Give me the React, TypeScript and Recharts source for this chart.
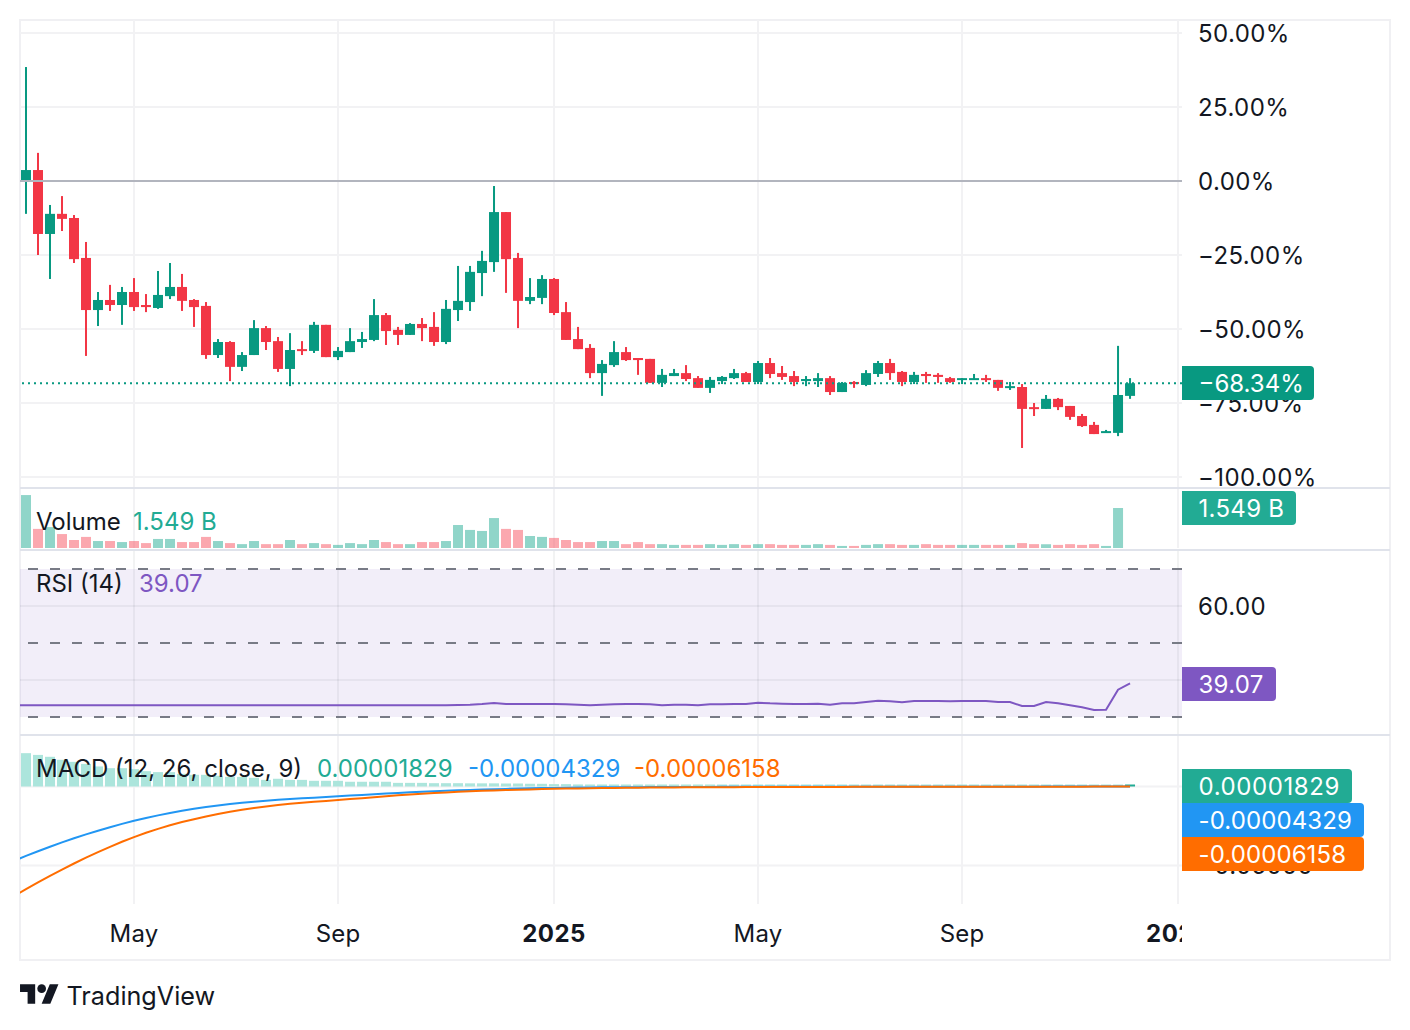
import React from "react";
import { ComposedChart, Bar, Line, XAxis, YAxis, CartesianGrid, ReferenceLine, ReferenceArea, Cell } from "recharts";

const FONT = "Inter, 'Noto Sans', sans-serif";
const UP = "#089981";
const DOWN = "#F23645";
const INK = "#131722";
const GRID = "#F2F2F4";
const SEP = "#E0E3EB";

const highs = [38.5,9.5,-8.1,-5.1,-11.5,-20.6,-37.5,-35.1,-35.8,-32.8,-38.2,-30.4,-27.7,-31.4,-39.9,-40.9,-53.4,-54.1,-57.8,-47,-49,-52.7,-51.4,-54.1,-47.6,-48.6,-56.1,-49.7,-51,-39.9,-44.6,-49.3,-48,-46.3,-44.3,-40.2,-28.7,-28.7,-23.6,-1.7,-10.5,-24.3,-32.8,-31.8,-32.8,-40.9,-49.3,-55.1,-60.5,-54.1,-56.1,-59.8,-60.1,-63.5,-63.5,-62.2,-65.9,-66.2,-65.9,-63.5,-64.5,-60.8,-59.8,-62.5,-64.2,-65.9,-64.9,-65.9,-67.9,-67.6,-63.9,-60.8,-60.1,-64.2,-64.5,-64.5,-64.9,-66.2,-66.6,-65.2,-65.5,-67.2,-67.9,-68.6,-75,-72.3,-73.3,-76,-78.7,-81.4,-84.1,-55.7,-66.6];
const lows = [-11.1,-25,-33.1,-16.9,-27.7,-59.1,-49,-43.9,-48.6,-43.9,-44.3,-43.2,-39.9,-43.9,-49.3,-60.1,-59.8,-67.6,-64.2,-58.8,-57.1,-64.5,-69.3,-58.8,-58.1,-59.5,-60.5,-57.8,-56.4,-54.1,-55.4,-55.4,-52,-54.1,-55.7,-55.1,-47.3,-43.9,-38.9,-30.7,-37.8,-49.7,-41.6,-41.6,-45.3,-53.7,-56.8,-66.6,-72.6,-62.8,-60.8,-65.5,-68.2,-69.6,-65.9,-67.6,-69.9,-71.6,-68.6,-66.9,-67.9,-68.6,-66.6,-67.2,-69.3,-69.3,-69.6,-72.3,-71.3,-69.9,-69.3,-66.2,-67.2,-69.3,-68.6,-68.2,-68.2,-68.2,-68.6,-67.2,-67.9,-70.9,-70.6,-90.2,-79.4,-77,-77.4,-80.7,-83.1,-85.5,-85.1,-86.2,-73.6];
const opens = [-0.3,3.7,-17.9,-11.1,-12.5,-26,-43.6,-40.2,-41.9,-37.5,-41.9,-42.9,-38.9,-35.8,-40.2,-42.2,-58.8,-54.4,-62.8,-58.8,-49.7,-54.1,-63.5,-56.8,-57.4,-48.6,-59.5,-57.8,-54.4,-53.7,-45.3,-50.3,-52,-48.3,-49.3,-54.4,-43.6,-40.9,-31.1,-27.4,-10.5,-26,-40.5,-39.5,-33.1,-44.3,-53.4,-56.4,-64.9,-62.2,-57.8,-59.8,-60.1,-68.2,-65.9,-64.9,-66.6,-69.9,-67.6,-66.6,-64.9,-67.9,-61.5,-64.9,-65.9,-67.6,-67.6,-66.6,-71.3,-67.9,-68.9,-65.2,-61.5,-64.5,-67.9,-65.2,-65.5,-66.6,-67.2,-67.2,-66.6,-67.2,-69.9,-69.6,-76.4,-77,-73.6,-76,-79.4,-82.4,-85.1,-85.1,-72.6];
const closes = [3.7,-17.9,-11.1,-12.8,-26.4,-43.6,-40.2,-41.9,-37.5,-42.6,-42.6,-38.5,-35.8,-40.5,-42.6,-58.8,-54.4,-62.8,-58.8,-49.7,-54.4,-63.5,-57.1,-57.4,-48.6,-59.5,-57.4,-54.1,-53.4,-45.3,-50.7,-52,-48.3,-49.7,-54.4,-43.2,-40.5,-30.7,-27,-10.5,-26.4,-40.5,-39.2,-33.1,-44.6,-53.7,-56.8,-64.9,-61.8,-57.8,-60.5,-60.5,-68.2,-65.5,-64.9,-66.9,-69.9,-67.2,-66.2,-64.9,-67.9,-61.5,-65.2,-66.2,-67.9,-66.9,-66.6,-71.3,-68.2,-68.6,-64.9,-61.5,-64.9,-67.9,-65.5,-65.9,-66.2,-67.9,-66.6,-66.6,-67.2,-69.9,-69.3,-77,-77,-73.6,-76.4,-79.7,-82.8,-85.5,-84.5,-72.3,-68.34];

const volumes = [2.05,0.74,0.81,0.54,0.31,0.43,0.27,0.27,0.23,0.27,0.19,0.35,0.35,0.23,0.23,0.43,0.27,0.19,0.15,0.27,0.15,0.15,0.31,0.15,0.19,0.15,0.12,0.19,0.15,0.31,0.23,0.15,0.15,0.23,0.23,0.27,0.89,0.70,0.66,1.16,0.74,0.70,0.46,0.43,0.39,0.31,0.23,0.23,0.27,0.27,0.15,0.23,0.15,0.15,0.12,0.12,0.12,0.15,0.12,0.15,0.12,0.15,0.15,0.12,0.12,0.12,0.15,0.12,0.08,0.08,0.12,0.15,0.15,0.12,0.12,0.15,0.12,0.12,0.12,0.12,0.12,0.12,0.12,0.19,0.15,0.15,0.12,0.15,0.12,0.15,0.08,1.549,null];

const rsiStart = 33.15;
const rsi = [33.15,33.15,33.15,33.15,33.15,33.15,33.15,33.15,33.15,33.15,33.15,33.15,33.15,33.15,33.15,33.15,33.15,33.15,33.15,33.15,33.15,33.15,33.2,33.2,33.15,33.15,33.15,33.15,33.15,33.15,33.15,33.15,33.15,33.15,33.15,33.2,33.25,33.33,33.51,33.78,33.55,33.51,33.51,33.51,33.51,33.42,33.33,33.15,33.3,33.42,33.51,33.51,33.45,33.15,33.33,33.33,33.15,33.42,33.42,33.51,33.51,33.87,33.69,33.6,33.51,33.51,33.6,33.33,33.69,33.69,34.05,34.41,34.23,33.96,34.32,34.32,34.32,34.23,34.32,34.32,34.32,34.05,34.05,32.97,32.97,34.05,33.69,33.15,32.61,31.89,31.98,37.39,39.07];

const macdStart = -0.04703;
const macd = [-0.04393,-0.04096,-0.03811,-0.03538,-0.03279,-0.03032,-0.02798,-0.02576,-0.02367,-0.02171,-0.01994,-0.01829,-0.01677,-0.01538,-0.01412,-0.01298,-0.01196,-0.01108,-0.01032,-0.00962,-0.00899,-0.00842,-0.00791,-0.00747,-0.00709,-0.00665,-0.0062,-0.00576,-0.00532,-0.00487,-0.00443,-0.00405,-0.00367,-0.00329,-0.00298,-0.00266,-0.00241,-0.00215,-0.0019,-0.00171,-0.00152,-0.00133,-0.00114,-0.00101,-0.00089,-0.00076,-0.00068,-0.00061,-0.00055,-0.0005,-0.00045,-0.00041,-0.00037,-0.00034,-0.00031,-0.00028,-0.00026,-0.00024,-0.00022,-0.0002,-0.0002,-0.00019,-0.00019,-0.00018,-0.00018,-0.00015,-0.00015,-0.00015,-0.00015,-0.00015,-0.00015,-0.00012,-0.00012,-0.00012,-0.00012,-0.00012,-0.0001,-0.0001,-0.0001,-0.0001,-0.0001,-0.0001,-0.0001,-0.00009,-0.00009,-0.00008,-0.00008,-0.00007,-0.00007,-0.00006,-0.00006,-0.00005,-0.00004329];
const signalStart = -0.06944;
const signal = [-0.06495,-0.06071,-0.05659,-0.0526,-0.04874,-0.04507,-0.04152,-0.03817,-0.035,-0.03203,-0.02931,-0.02684,-0.02456,-0.02253,-0.0207,-0.01899,-0.01741,-0.01601,-0.01475,-0.01361,-0.0126,-0.01171,-0.01095,-0.01032,-0.00968,-0.00912,-0.00855,-0.00798,-0.00741,-0.00684,-0.00614,-0.00557,-0.005,-0.00456,-0.00411,-0.00373,-0.00335,-0.00304,-0.00272,-0.00247,-0.00222,-0.00203,-0.00184,-0.00165,-0.00146,-0.00133,-0.00122,-0.00112,-0.00102,-0.00092,-0.00084,-0.00077,-0.0007,-0.00064,-0.00059,-0.00054,-0.0005,-0.00047,-0.00044,-0.00041,-0.00038,-0.00035,-0.00033,-0.00031,-0.0003,-0.00028,-0.00026,-0.00025,-0.00024,-0.00022,-0.00021,-0.0002,-0.00019,-0.00018,-0.00017,-0.00016,-0.00016,-0.00015,-0.00015,-0.00014,-0.00014,-0.00013,-0.00013,-0.00012,-0.00012,-0.00011,-0.0001,-0.0001,-0.00009,-0.00008,-0.00008,-0.00007,-0.00006158];
const histogram = [0.0211,0.02,0.0188,0.0169,0.0156,0.0143,0.0127,0.0116,0.0116,0.011,0.0097,0.0091,0.0091,0.008,0.0074,0.0074,0.0068,0.0061,0.0061,0.0055,0.0042,0.0049,0.0042,0.0042,0.0036,0.0036,0.0036,0.003,0.003,0.003,0.003,0.0023,0.0023,0.0023,0.0021,0.0021,0.0021,0.002,0.002,0.002,0.0019,0.0019,0.0017,0.0017,0.0015,0.0015,0.0013,0.0012,0.0011,0.001,0.0009,0.0009,0.0008,0.0008,0.0007,0.0007,0.0006,0.0006,0.0006,0.0005,0.0005,0.0004,0.0004,0.0004,0.0003,0.0003,0.0003,0.0003,0.0002,0.0002,0.0002,0.0002,0.0002,0.0002,0.0001,0.0001,0.0001,0.0001,0.0001,0.0001,0.0001,0.0001,0.0001,0.00008,0.00008,0.00006,0.00006,0.00005,0.00005,0.00004,0.00004,0.00003,0.00001829];

const priceTicks = [50, 25, 0, -25, -50, -75, -100];
const priceGrid = [50, 25, -25, -50, -75, -100];
const timeTicks = [9, 26, 44, 61, 78, 96];
const timeLabels = ["May", "Sep", "2025", "May", "Sep", "2026"];
const rsiGrid = [60, 40];
const rsiTicks = [60];
const rsiBands = [70, 50, 30];
const macdTicks = [0, -0.05];
const macdGrid = [0, -0.05];

const rows = highs.map((h, i) => ({
  i,
  high: h,
  low: lows[i],
  open: opens[i],
  close: closes[i],
  volume: volumes[i],
  rsi: rsi[i],
  macd: macd[i],
  signal: signal[i],
  hist: histogram[i],
}));
const lead = { i: -1, rsi: rsiStart, macd: macdStart, signal: signalStart };
const lineRows = [lead, ...rows];

const X_DOMAIN: [number, number] = [-0.5, 96.33];
const FULL_W = 1370;
const PLOT_R = 208;

function Candle(props: any) {
  const { x, y, width, height, payload } = props;
  if (payload.high == null || !height) return null;
  const toY = (v: number) => y + ((payload.high - v) / (payload.high - payload.low)) * height;
  const up = payload.close >= payload.open;
  const color = up ? UP : DOWN;
  const top = toY(Math.max(payload.open, payload.close));
  const bottom = toY(Math.min(payload.open, payload.close));
  const cx = x + width / 2;
  return (
    <g>
      <rect x={cx - 1} y={y} width={2} height={height} fill={color} />
      <rect x={cx - 5} y={top} width={10} height={Math.max(bottom - top, 2)} fill={color} />
    </g>
  );
}

const tickStyle = { fontSize: 24, fill: INK, fontFamily: FONT, letterSpacing: 0.4 };

function pane(top: number, height: number, width: number, left = 20): React.CSSProperties {
  return { position: "absolute", left, top, width, height };
}

function TimeTick(props: any) {
  const { x, y, payload } = props;
  const k = timeTicks.indexOf(payload.value);
  const year = timeLabels[k].length === 4;
  return (
    <text x={x} y={y + 36} textAnchor="middle" fontFamily={FONT} fontSize={24} fontWeight={year ? 700 : 400} fill={INK} letterSpacing={year ? 0.5 : 0.2}>
      {timeLabels[k]}
    </text>
  );
}

function Tag({ top, right, bg, text, ls }: { top: number; right: number; bg: string; text: string; ls: number }) {
  return (
    <div
      style={{
        position: "absolute", left: 1182, top, width: right - 1182, height: 34, background: bg, color: "#fff",
        borderRadius: "0 4px 4px 0", font: `24px/35px ${FONT}`, paddingLeft: 16.5, boxSizing: "border-box",
        whiteSpace: "nowrap", letterSpacing: ls,
      }}
    >
      {text}
    </div>
  );
}

function Legend({ left, top, color, text }: { left: number; top: number; color: string; text: string }) {
  return (
    <div style={{ position: "absolute", left, top: top - 16, height: 34, color, font: `24px/34px ${FONT}`, whiteSpace: "pre" }}>
      {text}
    </div>
  );
}

function Sep({ top }: { top: number }) {
  return <div style={{ position: "absolute", left: 20, top, width: 1370, height: 2, background: SEP }} />;
}

export default function App() {
  return (
    <div style={{ position: "absolute", left: 0, top: 0, width: 1410, height: 1030, background: "#fff", overflow: "hidden" }}>
      <div style={{ position: "absolute", left: 19, top: 19, width: 1372, height: 942, border: "2px solid #F0F0F3", boxSizing: "border-box" }} />

      {/* Price pane */}
      <div style={pane(20, 490, FULL_W)}>
        <ComposedChart width={FULL_W} height={490} data={rows} margin={{ top: 0, right: 0, bottom: 22, left: 0 }}>
          <CartesianGrid stroke={GRID} strokeWidth={2} horizontalValues={priceGrid} verticalValues={timeTicks} />
          <XAxis dataKey="i" type="number" domain={X_DOMAIN} allowDataOverflow hide />
          <YAxis
            orientation="right" width={PLOT_R} domain={[-103.72, 54.39]} allowDataOverflow ticks={priceTicks} interval={0}
            axisLine={false} tickLine={false} tickSize={0} tickMargin={16} tick={tickStyle}
            tickFormatter={(v: number) => `${v < 0 ? "\u2212" : ""}${Math.abs(v).toFixed(2)}%`}
          />
          <ReferenceLine y={0} stroke="#B2B5BE" strokeWidth={2} />
          <Bar dataKey={(d: any) => [d.low, d.high]} barSize={10} shape={Candle} isAnimationActive={false} />
          <ReferenceLine y={-68.34} stroke={UP} strokeWidth={2} strokeDasharray="2 4" />
        </ComposedChart>
      </div>

      {/* Volume pane */}
      <div style={pane(489, 59, FULL_W)}>
        <ComposedChart width={FULL_W} height={59} data={rows} margin={{ top: 0, right: PLOT_R, bottom: 0, left: 0 }}>
          <CartesianGrid stroke={GRID} strokeWidth={2} horizontal={false} verticalValues={timeTicks} />
          <XAxis dataKey="i" type="number" domain={X_DOMAIN} allowDataOverflow hide />
          <YAxis domain={[0, 2.285]} allowDataOverflow hide />
          <Bar dataKey="volume" barSize={10} isAnimationActive={false}>
            {rows.map((r) => (
              <Cell key={r.i} fill={r.close >= r.open ? "#22AB94" : "#F7525F"} fillOpacity={0.5} />
            ))}
          </Bar>
        </ComposedChart>
      </div>

      {/* RSI pane */}
      <div style={pane(551, 184, FULL_W)}>
        <ComposedChart width={FULL_W} height={184} data={lineRows} margin={{ top: 0, right: 0, bottom: 0, left: 0 }}>
          <ReferenceArea y1={30} y2={70} fill="#7E57C2" fillOpacity={0.1} stroke="none" />
          <CartesianGrid stroke="#2A2E39" strokeOpacity={0.06} strokeWidth={2} horizontalValues={rsiGrid} verticalValues={timeTicks} />
          <XAxis dataKey="i" type="number" domain={X_DOMAIN} allowDataOverflow hide />
          <YAxis
            orientation="right" width={PLOT_R} domain={[25.14, 74.86]} allowDataOverflow ticks={rsiTicks} interval={0}
            axisLine={false} tickLine={false} tickSize={0} tickMargin={16} tick={tickStyle}
            tickFormatter={(v: number) => v.toFixed(2)}
          />
          {rsiBands.map((b) => (
            <ReferenceLine key={b} y={b} stroke="#787B86" strokeWidth={2} strokeDasharray="10 12" />
          ))}
          <Line dataKey="rsi" stroke="#7E57C2" strokeWidth={2} dot={false} isAnimationActive={false} />
        </ComposedChart>
      </div>

      {/* MACD pane */}
      <div style={pane(736, 168, FULL_W)}>
        <ComposedChart width={FULL_W} height={168} data={lineRows} margin={{ top: 0, right: 0, bottom: 0, left: 0 }}>
          <CartesianGrid stroke={GRID} strokeWidth={2} horizontalValues={macdGrid} verticalValues={timeTicks} />
          <XAxis dataKey="i" type="number" domain={X_DOMAIN} allowDataOverflow hide />
          <YAxis
            orientation="right" width={PLOT_R} domain={[-0.07437, 0.03196]} allowDataOverflow ticks={macdTicks} interval={0}
            axisLine={false} tickLine={false} tickSize={0} tickMargin={16} tick={tickStyle}
            tickFormatter={(v: number) => `${v < 0 ? "\u2212" : ""}${Math.abs(v).toFixed(5)}`}
          />
          <Bar dataKey="hist" barSize={10} minPointSize={2} isAnimationActive={false}>
            {lineRows.map((r) => (
              <Cell key={r.i} fill={r.i === 92 ? "#22AB94" : "#ACE5DC"} />
            ))}
          </Bar>
          <Line dataKey="macd" stroke="#2196F3" strokeWidth={2} dot={false} isAnimationActive={false} />
          <Line dataKey="signal" stroke="#FF6D00" strokeWidth={2} dot={false} isAnimationActive={false} />
        </ComposedChart>
      </div>

      {/* Time axis */}
      <div style={pane(894, 66, 1162)}>
        <ComposedChart width={1162} height={66} data={rows} margin={{ top: 0, right: 0, bottom: 0, left: 0 }}>
          <XAxis
            dataKey="i" type="number" domain={X_DOMAIN} allowDataOverflow ticks={timeTicks} interval={0} height={56}
            axisLine={false} tickLine={false} tickSize={0} tick={TimeTick}
          />
          <YAxis domain={[0, 1]} hide />
          <Line dataKey="none" stroke="none" dot={false} isAnimationActive={false} />
        </ComposedChart>
      </div>

      <Sep top={487} />
      <Sep top={549} />
      <Sep top={734} />

      <Legend left={36} top={521} color={INK} text="Volume" />
      <Legend left={133} top={521} color="#22AB94" text="1.549 B" />
      <Legend left={36} top={583} color={INK} text="RSI (14)" />
      <Legend left={139} top={583} color="#7E57C2" text="39.07" />
      <Legend left={36} top={768} color={INK} text="MACD (12, 26, close, 9)" />
      <Legend left={317} top={768} color="#22AB94" text="0.00001829" />
      <Legend left={468} top={768} color="#2196F3" text="-0.00004329" />
      <Legend left={634} top={768} color="#FF6D00" text="-0.00006158" />

      <Tag top={366} right={1314} bg={UP} text={"\u221268.34%"} ls={0} />
      <Tag top={491} right={1296} bg="#22AB94" text="1.549 B" ls={0.3} />
      <Tag top={667} right={1276} bg="#7E57C2" text="39.07" ls={0.3} />
      <Tag top={769} right={1352} bg="#22AB94" text="0.00001829" ls={0.6} />
      <Tag top={803} right={1364} bg="#2196F3" text="-0.00004329" ls={0.1} />
      <Tag top={837} right={1364} bg="#FF6D00" text="-0.00006158" ls={0.1} />

      <svg style={{ position: "absolute", left: 20, top: 979.7 }} width={39} height={30.3} viewBox="0 0 36 28">
        <path d="M14 22H7V11H0V4h14v18zM28 22h-8l7.5-18h8L28 22z" fill={INK} />
        <circle cx={20} cy={8} r={4} fill={INK} />
      </svg>
      <div style={{ position: "absolute", left: 66.5, top: 979, height: 34, font: `25.2px/34px ${FONT}`, color: INK, whiteSpace: "nowrap" }}>TradingView</div>
    </div>
  );
}
